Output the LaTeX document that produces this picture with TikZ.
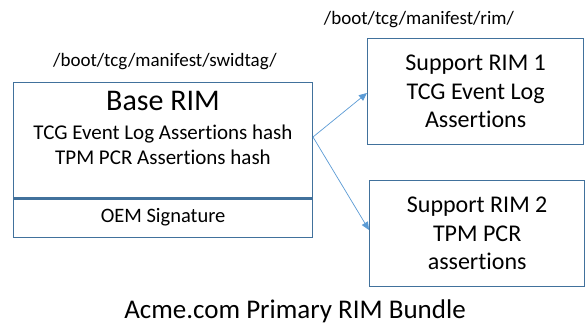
\documentclass[tikz,border=0pt]{standalone}
\usepackage{fontspec}
\setmainfont{Carlito}[Ligatures=NoCommon]
\usetikzlibrary{arrows.meta}
\definecolor{boxc}{HTML}{41719C}
\definecolor{arrc}{HTML}{5B9BD5}
\begin{document}
\begin{tikzpicture}[x=1pt,y=-1pt,
  rimbox/.style={draw=boxc,line width=1.3pt,minimum width=#1,inner sep=0pt,align=center},
  conn/.style={draw=arrc,line width=0.7pt,-{Triangle[length=8pt,width=7pt]}},
  pathlbl/.style={font=\fontsize{19}{22}\selectfont}]
\useasboundingbox (0,0) rectangle (587,329);
\fill[white] (0,0) rectangle (587,329);
% Base RIM
\node[rimbox=299pt,minimum height=115pt,anchor=north west] (base) at (13,82) {};
\node[anchor=center,font=\fontsize{30}{34}\selectfont] (basetitle) at (163,101) {Base RIM};
\node[anchor=center,align=center,font=\fontsize{21}{25}\selectfont] (basetext) at (163,145) {TCG Event Log Assertions hash\\TPM PCR Assertions hash};
\node[rimbox=299pt,minimum height=40pt,anchor=north west,font=\fontsize{20.5}{24}\selectfont] (oem) at (13,197) {OEM Signature};
\draw[boxc,line width=2.6pt] (base.south west) -- (base.south east);
% Support RIMs
\node[rimbox=216pt,minimum height=106pt,anchor=north west,font=\fontsize{24}{28.5}\selectfont] (s1) at (367,38) {Support RIM 1\\TCG Event Log\\Assertions};
\node[rimbox=215pt,minimum height=106pt,anchor=north west,font=\fontsize{24}{28.5}\selectfont] (s2) at (369,180) {Support RIM 2\\TPM PCR\\assertions};
% path labels
\node[pathlbl] (p1) at (165,62) {/boot/tcg/manifest/swidtag/};
\node[pathlbl] (p2) at (419,20) {/boot/tcg/manifest/rim/};
% title
\node[font=\fontsize{27}{30}\selectfont] (title) at (295,311) {Acme.com Primary RIM Bundle};
% connectors
\coordinate (src) at (313,137);
\coordinate (t1) at (367,93);
\coordinate (t2) at (369,230);
\draw[conn] (src) -- (t1);
\draw[conn] (src) -- (t2);
\end{tikzpicture}
\end{document}
